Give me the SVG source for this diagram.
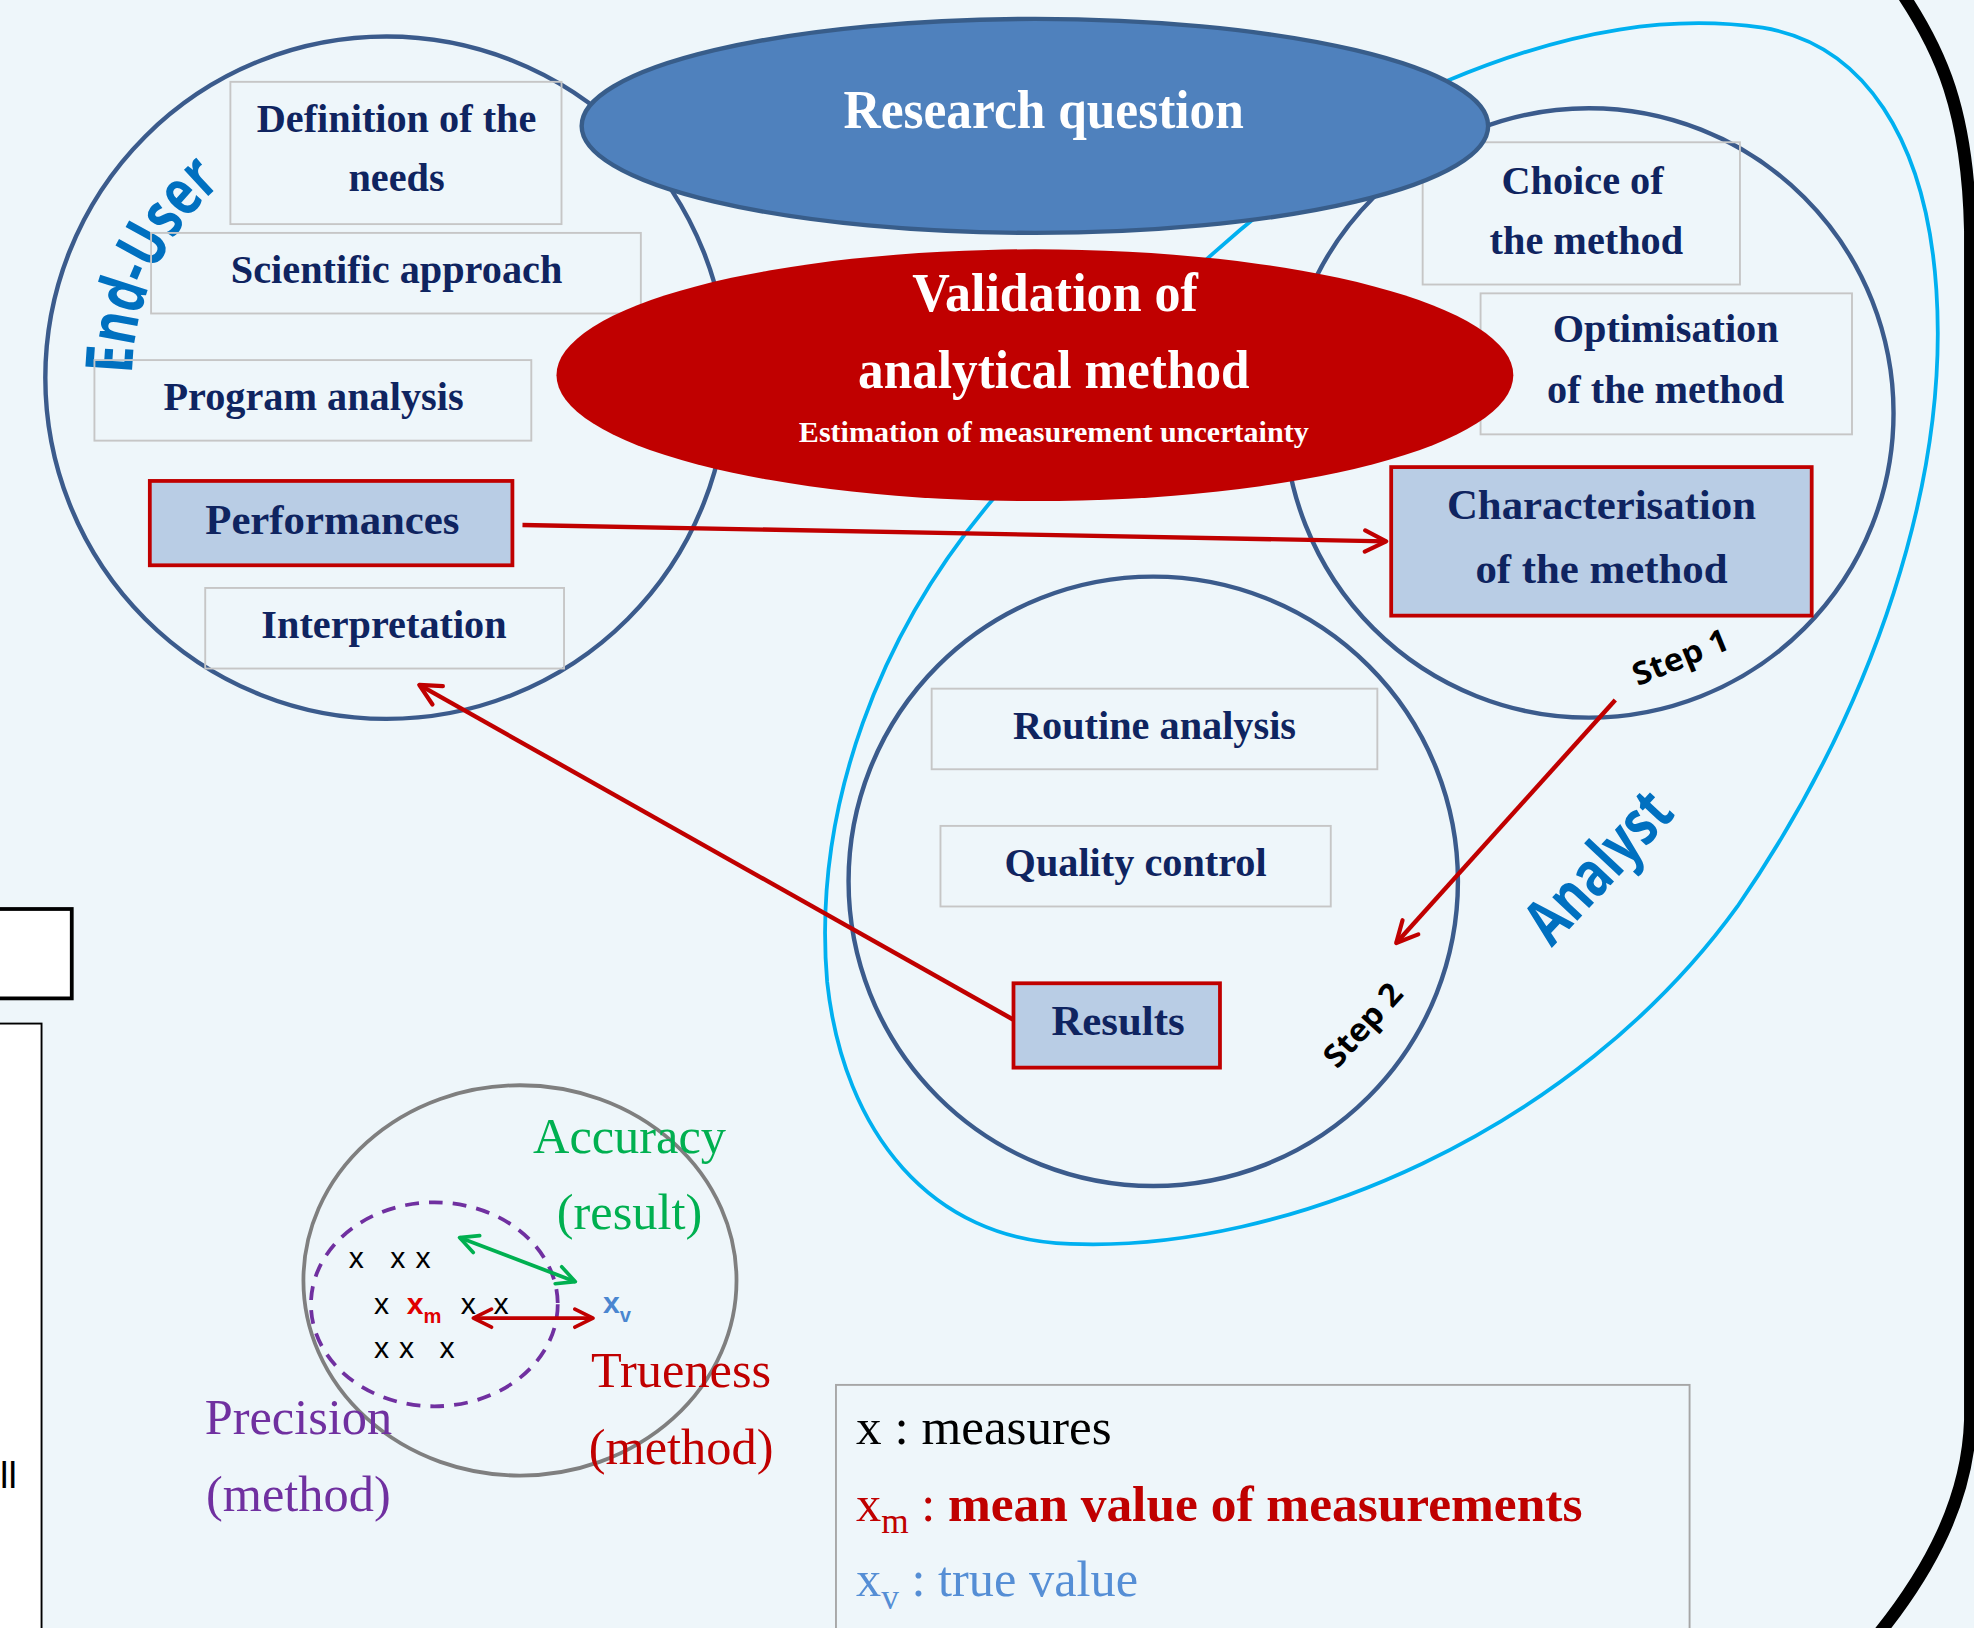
<svg xmlns="http://www.w3.org/2000/svg" width="1974" height="1628" viewBox="0 0 1974 1628">
<style>
.bx{fill:none;stroke:#C6C6C6;stroke-width:1.5}
.hl{fill:#B9CDE5;stroke:#C00000;stroke-width:3}
.bt{font-family:"Liberation Serif",serif;font-weight:bold;font-size:32px;fill:#0F2460;text-anchor:middle}
.bt2{font-size:34px}
.circ{fill:none;stroke:#3B5B8C;stroke-width:3.5}
.wt{font-family:"Liberation Serif",serif;font-weight:bold;fill:#FFFFFF;text-anchor:middle}
.hand{font-family:"Open Sans","DejaVu Sans",sans-serif;font-weight:700}
.acc{font-family:"Liberation Serif",serif;font-size:40px;text-anchor:middle}
.xm{font-family:"Liberation Sans",sans-serif;font-size:24px;fill:#000}
.conn{fill:none;stroke:#C00000;stroke-width:3.5}
</style>
<defs>
<marker id="ahr" viewBox="0 0 10 10" refX="9" refY="5" markerWidth="6" markerHeight="6" orient="auto-start-reverse" markerUnits="strokeWidth">
<path d="M1,1 L9,5 L1,9" fill="none" stroke="#C00000" stroke-width="1.6" stroke-linecap="round" stroke-linejoin="round"/>
</marker>
<marker id="ahg" viewBox="0 0 10 10" refX="9" refY="5" markerWidth="6" markerHeight="6" orient="auto-start-reverse" markerUnits="strokeWidth">
<path d="M1,1 L9,5 L1,9" fill="none" stroke="#00B050" stroke-width="1.6" stroke-linecap="round" stroke-linejoin="round"/>
</marker>
<path id="euArc" d="M 105,300 A 202,202 0 0 1 206,125"/>
</defs>
<rect x="0" y="0" width="1974" height="1628" fill="#EEF6FA"/>
<g transform="scale(1.259)">
<g id="left-partial">
<rect x="-10" y="722" width="67" height="71" fill="#FFFFFF" stroke="#000" stroke-width="3"/>
<rect x="-10" y="813" width="43" height="500" fill="#FFFFFF" stroke="#000" stroke-width="1.5"/>
<text x="0" y="1182" font-family="Liberation Sans,sans-serif" font-size="30" fill="#000">ll</text>
</g>
<path id="frame" d="M 1511,-5 C 1541,40 1563,87 1565,183 L 1565,1128 C 1563,1191 1533,1247 1492,1298" fill="none" stroke="#000" stroke-width="10"/>
<g id="analyst-region">
<path d="M 1150,64 C 1250,22 1330,12 1400,22 C 1480,35 1530,110 1538,230 C 1548,380 1490,560 1380,720 C 1250,900 1020,995 850,988 C 740,985 670,900 657,780 C 645,640 700,500 790,395 C 850,320 930,200 1150,64 Z" fill="none" stroke="#00B0F0" stroke-width="3"/>
<text class="hand" transform="translate(1282,700) rotate(-47)" font-size="50" fill="#0070C0" text-anchor="middle" textLength="145" lengthAdjust="spacingAndGlyphs">Analyst</text>
</g>
<g id="end-user-circle">
<circle class="circ" cx="307" cy="300" r="271"/>
<text class="hand" font-size="52" fill="#0070C0"><textPath href="#euArc" startOffset="3" textLength="172" lengthAdjust="spacingAndGlyphs">End-User</textPath></text>
</g>
<circle id="method-circle" class="circ" cx="1262" cy="328" r="242"/>
<circle id="routine-circle" class="circ" cx="916" cy="700" r="242"/>
<g id="definition"><rect class="bx" x="183" y="65" width="263" height="113"/><text class="bt" x="315" y="105">Definition of the</text><text class="bt" x="315" y="152">needs</text></g>
<g id="scientific"><rect class="bx" x="120" y="185" width="389" height="64"/><text class="bt" x="315" y="225">Scientific approach</text></g>
<g id="program"><rect class="bx" x="75" y="286" width="347" height="64"/><text class="bt" x="249" y="326">Program analysis</text></g>
<g id="performances"><rect class="hl" x="119" y="382" width="288" height="67"/><text class="bt bt2" x="264" y="424">Performances</text></g>
<g id="interpretation"><rect class="bx" x="163" y="467" width="285" height="64"/><text class="bt" x="305" y="507">Interpretation</text></g>
<g id="choice"><rect class="bx" x="1130" y="113" width="252" height="113"/><text class="bt" x="1257" y="154">Choice of</text><text class="bt" x="1260" y="202">the method</text></g>
<g id="optimisation"><rect class="bx" x="1176" y="233" width="295" height="112"/><text class="bt" x="1323" y="272">Optimisation</text><text class="bt" x="1323" y="320">of the method</text></g>
<g id="characterisation"><rect class="hl" x="1105" y="371" width="334" height="118"/><text class="bt bt2" x="1272" y="412">Characterisation</text><text class="bt bt2" x="1272" y="463">of the method</text></g>
<g id="routine"><rect class="bx" x="740" y="547" width="354" height="64"/><text class="bt" x="917" y="587">Routine analysis</text></g>
<g id="quality"><rect class="bx" x="747" y="656" width="310" height="64"/><text class="bt" x="902" y="696">Quality control</text></g>
<g id="results"><rect class="hl" x="805" y="781" width="164" height="67"/><text class="bt bt2" x="888" y="822">Results</text></g>
<g id="research-question">
<ellipse cx="822" cy="100" rx="360" ry="85" fill="#4F81BD" stroke="#385D8A" stroke-width="3.5"/>
<text class="wt" x="829" y="102" font-size="44" textLength="318" lengthAdjust="spacingAndGlyphs">Research question</text>
</g>
<g id="validation">
<ellipse cx="822" cy="298" rx="380" ry="100" fill="#C00000"/>
<text class="wt" x="838" y="247" font-size="44" textLength="227" lengthAdjust="spacingAndGlyphs">Validation of</text>
<text class="wt" x="837" y="308" font-size="44" textLength="311" lengthAdjust="spacingAndGlyphs">analytical method</text>
<text class="wt" x="837" y="351" font-size="23" textLength="405" lengthAdjust="spacingAndGlyphs">Estimation of measurement uncertainty</text>
</g>
<g id="step-labels">
<text class="hand" transform="translate(1338,530) rotate(-22)" font-size="25" fill="#000" text-anchor="middle" textLength="80" lengthAdjust="spacingAndGlyphs">Step 1</text>
<text class="hand" transform="translate(1089,820) rotate(-48)" font-size="25" fill="#000" text-anchor="middle" textLength="80" lengthAdjust="spacingAndGlyphs">Step 2</text>
</g>
<g id="connectors">
<line class="conn" x1="415" y1="417" x2="1101" y2="430" marker-end="url(#ahr)"/>
<line class="conn" x1="805" y1="810" x2="333" y2="544" marker-end="url(#ahr)"/>
<line class="conn" x1="1283" y1="556" x2="1109" y2="749" marker-end="url(#ahr)"/>
</g>
<g id="accuracy-diagram">
<ellipse cx="413" cy="1017" rx="172" ry="155" fill="none" stroke="#7F7F7F" stroke-width="3"/>
<ellipse cx="345" cy="1036" rx="98" ry="81" fill="none" stroke="#7030A0" stroke-width="3" stroke-dasharray="11 8"/>
<text class="xm" x="283" y="1007" text-anchor="middle">x</text>
<text class="xm" x="316" y="1007" text-anchor="middle">x</text>
<text class="xm" x="336" y="1007" text-anchor="middle">x</text>
<text class="xm" x="303" y="1044" text-anchor="middle">x</text>
<text class="xm" x="372" y="1044" text-anchor="middle">x</text>
<text class="xm" x="398" y="1044" text-anchor="middle">x</text>
<text class="xm" x="303" y="1079" text-anchor="middle">x</text>
<text class="xm" x="323" y="1079" text-anchor="middle">x</text>
<text class="xm" x="355" y="1079" text-anchor="middle">x</text>
<text x="323" y="1044" font-family="Liberation Sans,sans-serif" font-weight="bold" font-size="24" fill="#E00000">x<tspan font-size="16" dy="7">m</tspan></text>
<text x="479" y="1043" font-family="Liberation Sans,sans-serif" font-weight="bold" font-size="24" fill="#4A86D0">x<tspan font-size="16" dy="7">v</tspan></text>
<line x1="365" y1="983" x2="457" y2="1018" stroke="#00B050" stroke-width="3" marker-start="url(#ahg)" marker-end="url(#ahg)"/>
<line x1="376" y1="1047" x2="471" y2="1047" stroke="#C00000" stroke-width="3" marker-start="url(#ahr)" marker-end="url(#ahr)"/>
<text class="acc" x="500" y="916" fill="#00B050">Accuracy</text>
<text class="acc" x="500" y="976" fill="#00B050">(result)</text>
<text class="acc" x="541" y="1102" fill="#C00000">Trueness</text>
<text class="acc" x="541" y="1163" fill="#C00000">(method)</text>
<text class="acc" x="237" y="1139" fill="#7030A0">Precision</text>
<text class="acc" x="237" y="1200" fill="#7030A0">(method)</text>
</g>
<g id="legend">
<rect x="664" y="1100" width="678" height="220" fill="none" stroke="#A6A6A6" stroke-width="1.5"/>
<text x="680" y="1147" font-family="Liberation Serif,serif" font-size="40" fill="#000" textLength="203" lengthAdjust="spacingAndGlyphs">x : measures</text>
<text x="680" y="1208" font-family="Liberation Serif,serif" font-size="40" fill="#C00000">x<tspan font-size="28" dy="10">m</tspan><tspan dy="-10"> : </tspan><tspan font-weight="bold" textLength="504" lengthAdjust="spacingAndGlyphs">mean value of measurements</tspan></text>
<text x="680" y="1268" font-family="Liberation Serif,serif" font-size="40" fill="#558ED5">x<tspan font-size="28" dy="10">v</tspan><tspan dy="-10"> : true value</tspan></text>
</g>
</g>
</svg>
